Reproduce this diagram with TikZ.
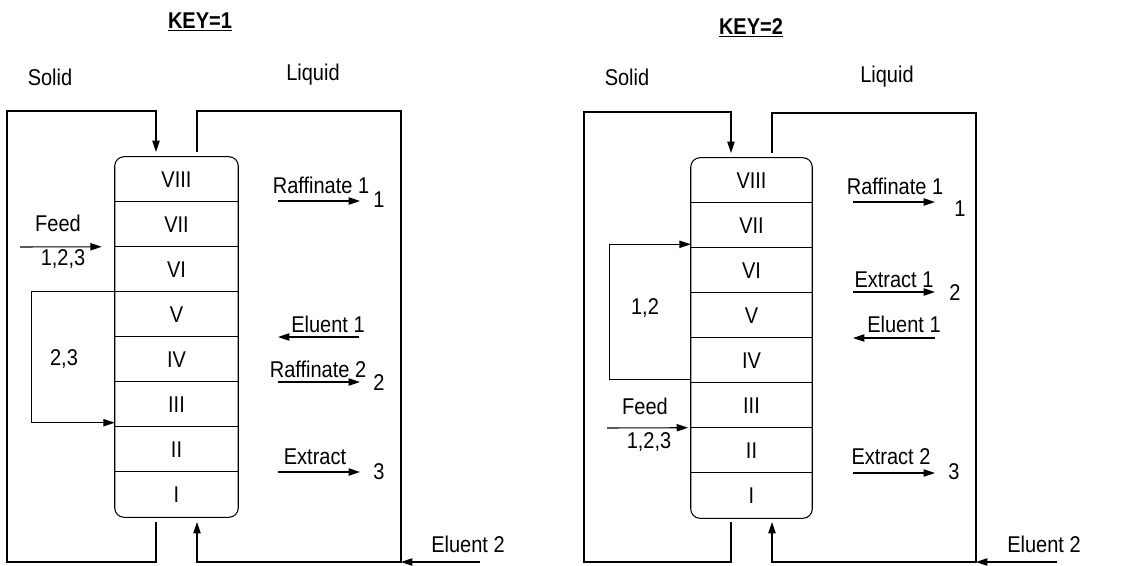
\documentclass[tikz,border=0pt]{standalone}
\usepackage{fontspec}
\setmainfont{Liberation Sans}
\usetikzlibrary{arrows.meta}

\begin{document}
\begin{tikzpicture}[
  x=0.75pt, y=-0.75pt,
  every node/.style={font=\fontsize{15}{18}\selectfont},
  lbl/.style={anchor=base, inner sep=0pt, yscale=1.14, transform shape},
  title/.style={lbl, font=\fontsize{15}{18}\selectfont\bfseries},
  cell/.style={inner sep=0pt, minimum height=29.6pt, yscale=1.14, transform shape},
  pipe/.style={line width=0.8pt},
  arrow/.style={pipe, -{Triangle[length=8.5pt,width=5.5pt]}}
]
\useasboundingbox (0,0) rectangle (1143,565);

% ---------- KEY=1 ----------
\node[title] (key1) at (200,28) {\underline{KEY=1}};
\node[lbl] (solid1) at (50,85) {Solid};
\node[lbl] (liquid1) at (313,80) {Liquid};

\foreach \lab [count=\i] in {I,II,III,IV,V,VI,VII,VIII}
  \node[cell, minimum width=92.25pt] (L\i) at (176.5,539.5-45*\i) {\lab};
\foreach \i in {1,...,7}
  \draw[pipe] (L\i.north west) -- (L\i.north east);
\draw[pipe, rounded corners=7pt] (L8.north west) rectangle (L1.south east);

\coordinate (sOut1) at (156,522);
\coordinate (sIn1) at (156,152);
\coordinate (lOut1) at (197,152);
\coordinate (lIn1) at (197,522);
\draw[arrow] (sOut1) -- (156,562) -| (7,111) -| (sIn1);
\draw[arrow] (lOut1) -- (197,111) -| (401,562) -| (lIn1);

\coordinate (elu2a1) at (480,562);
\coordinate (elu2b1) at (401,562);
\draw[arrow] (elu2a1) -- (elu2b1);
\node[lbl] (elu2L) at (468,552) {Eluent 2};

\coordinate (feed1) at (20,247);
\draw[arrow, shorten >=9.75pt] (feed1) -- (L6.north west);
\node[lbl] (feedL) at (58,231) {Feed};
\node[lbl] (mixL) at (63,265) {1,2,3};

\draw[arrow] (L5.north west) -- ++(-83,0) |- ([yshift=3pt]L2.north west);
\node[lbl] (recL) at (64,365) {2,3};

\coordinate (raf1a) at (278,201); \coordinate (raf1b) at (360,201);
\coordinate (elu1a) at (359,337); \coordinate (elu1b) at (278,337);
\coordinate (raf2a) at (278,382); \coordinate (raf2b) at (360,382);
\coordinate (extra) at (278,472); \coordinate (extrb) at (360,472);
\draw[arrow] (raf1a) -- (raf1b);
\draw[arrow] (elu1a) -- (elu1b);
\draw[arrow] (raf2a) -- (raf2b);
\draw[arrow] (extra) -- (extrb);
\node[lbl] (raf1L) at (321,193) {Raffinate 1};
\node[lbl] (out1L) at (379,207) {1};
\node[lbl] (elu1L) at (328,332) {Eluent 1};
\node[lbl] (raf2L) at (318,377) {Raffinate 2};
\node[lbl] (out2L) at (379,390) {2};
\node[lbl] (extL) at (315,464) {Extract};
\node[lbl] (out3L) at (379,479) {3};

% ---------- KEY=2 ----------
\node[title] (key2) at (751,34) {\underline{KEY=2}};
\node[lbl] (solid2) at (627,85) {Solid};
\node[lbl] (liquid2) at (887,82) {Liquid};

\foreach \lab [count=\i] in {I,II,III,IV,V,VI,VII,VIII}
  \node[cell, minimum width=90.75pt] (R\i) at (751.5,540.5-45*\i) {\lab};
\foreach \i in {1,...,7}
  \draw[pipe] (R\i.north west) -- (R\i.north east);
\draw[pipe, rounded corners=7pt] (R8.north west) rectangle (R1.south east);

\coordinate (sOut2) at (731,522);
\coordinate (sIn2) at (731,153);
\coordinate (lOut2) at (772,153);
\coordinate (lIn2) at (772,522);
\draw[arrow] (sOut2) -- (731,562) -| (584,112) -| (sIn2);
\draw[arrow] (lOut2) -- (772,113) -| (976,562) -| (lIn2);

\coordinate (elu2a2) at (1057,562);
\coordinate (elu2b2) at (976,562);
\draw[arrow] (elu2a2) -- (elu2b2);
\node[lbl] (elu2R) at (1044,552) {Eluent 2};

\draw[arrow] ([yshift=3pt]R4.south west) -- ++(-81,0) |- ([yshift=3pt]R7.south west);
\node[lbl] (recR) at (645,314) {1,2};

\coordinate (feed2) at (607,428);
\draw[arrow, shorten >=2pt] (feed2) -- (R2.north west);
\node[lbl] (feedR) at (645,414) {Feed};
\node[lbl] (mixR) at (649,448) {1,2,3};

\coordinate (rafRa) at (853,202); \coordinate (rafRb) at (935,202);
\coordinate (ex1a) at (853,292); \coordinate (ex1b) at (935,292);
\coordinate (eluRa) at (935,338); \coordinate (eluRb) at (853,338);
\coordinate (ex2a) at (853,473); \coordinate (ex2b) at (935,473);
\draw[arrow] (rafRa) -- (rafRb);
\draw[arrow] (ex1a) -- (ex1b);
\draw[arrow] (eluRa) -- (eluRb);
\draw[arrow] (ex2a) -- (ex2b);
\node[lbl] (rafRL) at (895,194) {Raffinate 1};
\node[lbl] (out1R) at (960,216) {1};
\node[lbl] (ex1L) at (894,287) {Extract 1};
\node[lbl] (out2R) at (955,300) {2};
\node[lbl] (eluRL) at (904,332) {Eluent 1};
\node[lbl] (ex2L) at (891,464) {Extract 2};
\node[lbl] (out3R) at (954,479) {3};
\end{tikzpicture}
\end{document}
